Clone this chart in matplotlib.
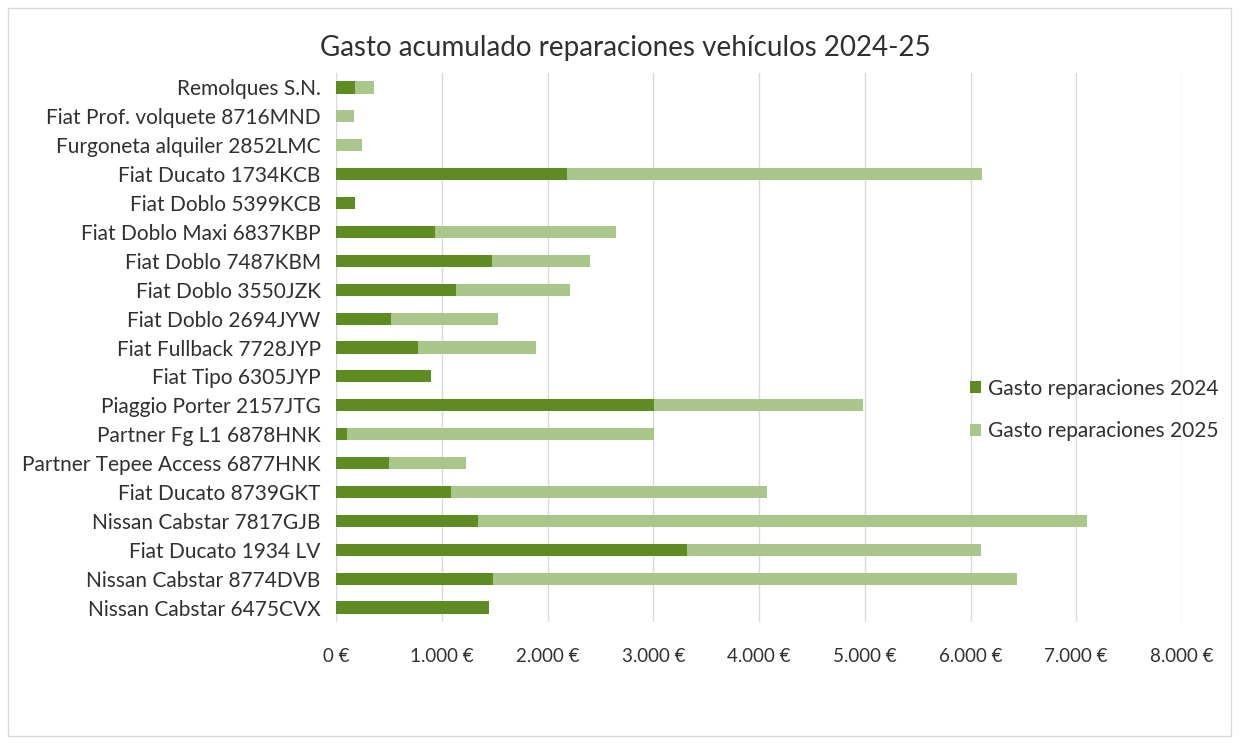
import numpy as np
import matplotlib.pyplot as plt
from matplotlib.patches import Rectangle

# Vehicles, top to bottom as in the chart
vehiculos = [
    "Remolques S.N.",
    "Fiat Prof. volquete 8716MND",
    "Furgoneta alquiler 2852LMC",
    "Fiat Ducato 1734KCB",
    "Fiat Doblo 5399KCB",
    "Fiat Doblo Maxi 6837KBP",
    "Fiat Doblo 7487KBM",
    "Fiat Doblo 3550JZK",
    "Fiat Doblo 2694JYW",
    "Fiat Fullback 7728JYP",
    "Fiat Tipo 6305JYP",
    "Piaggio Porter 2157JTG",
    "Partner Fg L1 6878HNK",
    "Partner Tepee Access 6877HNK",
    "Fiat Ducato 8739GKT",
    "Nissan Cabstar 7817GJB",
    "Fiat Ducato 1934 LV",
    "Nissan Cabstar 8774DVB",
    "Nissan Cabstar 6475CVX",
]

# Gasto (EUR) por año
gasto_2024 = [180, 0, 0, 2185, 180, 937, 1475, 1135, 520, 776, 900,
              3010, 100, 500, 1088, 1343, 3320, 1485, 1447]
gasto_2025 = [180, 170, 246, 3925, 0, 1713, 928, 1079, 1013, 1116, 0,
              1975, 2910, 730, 2990, 5762, 2780, 4958, 0]

x_ticks = [0, 1000, 2000, 3000, 4000, 5000, 6000, 7000, 8000]
x_labels = ["0 €", "1.000 €", "2.000 €", "3.000 €", "4.000 €",
            "5.000 €", "6.000 €", "7.000 €", "8.000 €"]

c2024 = "#5f8c22"
c2025 = "#a9c68b"
txt = "#303030"

plt.rcParams['font.family'] = ['Lato', 'DejaVu Sans']

fig = plt.figure(figsize=(12.39, 7.44), dpi=100)
ax = fig.add_axes([336 / 1239, 1 - 622 / 744, (1182 - 336) / 1239, (622 - 73) / 744])

y = np.arange(len(vehiculos))
ax.barh(y, gasto_2024, height=0.42, color=c2024, label="Gasto reparaciones 2024", zorder=3)
ax.barh(y, gasto_2025, height=0.42, left=gasto_2024, color=c2025,
        label="Gasto reparaciones 2025", zorder=3)

ax.set_ylim(len(vehiculos) - 0.5, -0.5)
ax.set_yticks(y)
ax.set_yticklabels(vehiculos, fontsize=15, color=txt)
ax.set_xlim(0, 8000)
ax.set_xticks(x_ticks)
ax.set_xticklabels(x_labels, fontsize=13.5, color=txt)
ax.tick_params(axis="y", length=0, pad=11)
ax.tick_params(axis="x", length=0, pad=19)
ax.grid(axis="x", color="#d9d9d9", linewidth=1, zorder=0)
for s in ax.spines.values():
    s.set_visible(False)

fig.text(625 / 1239, 1 - 48 / 744, "Gasto acumulado reparaciones vehículos 2024-25",
         ha="center", va="center", fontsize=20, color=txt)

ax.legend(loc="center left", bbox_to_anchor=((970 - 336) / (1182 - 336), (622 - 410) / 549),
          frameon=False, fontsize=15, handlelength=0.55, handleheight=0.55,
          handletextpad=0.3, labelspacing=1.1, labelcolor=txt,
          borderaxespad=0, borderpad=0)

fig.patches.append(Rectangle((8 / 1239, 8 / 744), 1 - 16 / 1239, 1 - 16 / 744,
                             transform=fig.transFigure, fill=False,
                             edgecolor="#d9d9d9", linewidth=1))

fig.savefig("out.png", dpi=100, facecolor="white")
